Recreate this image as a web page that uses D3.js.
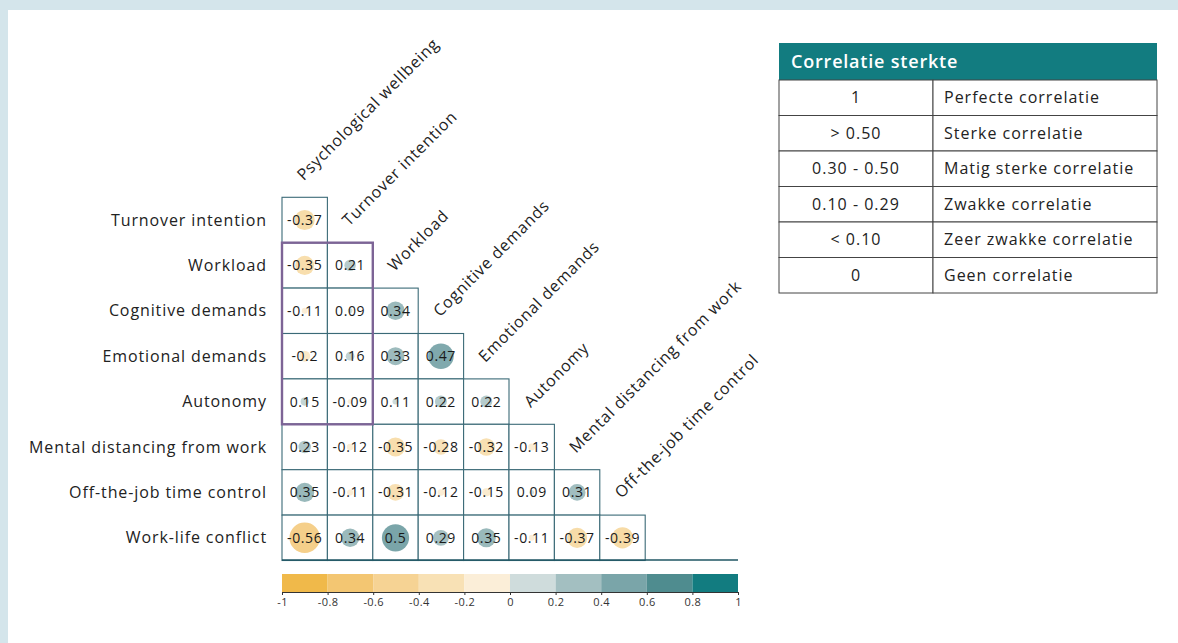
<!DOCTYPE html>
<html>
<head>
<meta charset="utf-8">
<script src="https://cdn.jsdelivr.net/npm/d3@7"></script>
<style>
  html, body { margin: 0; padding: 0; background: #ffffff; }
  svg { display: block; font-family: "Open Sans", sans-serif; }
</style>
</head>
<body>
<svg id="chart" width="1178" height="643"></svg>
<script>
// Variables shown on the rows (lower triangle) and columns
const rowVars = ["Turnover intention", "Workload", "Cognitive demands", "Emotional demands",
  "Autonomy", "Mental distancing from work", "Off-the-job time control", "Work-life conflict"];
const colVars = ["Psychological wellbeing", "Turnover intention", "Workload", "Cognitive demands",
  "Emotional demands", "Autonomy", "Mental distancing from work", "Off-the-job time control"];

// Correlations, one array per row (columns left to right)
const turnoverIntention = [-0.37];
const workload = [-0.35, 0.21];
const cognitiveDemands = [-0.11, 0.09, 0.34];
const emotionalDemands = [-0.2, 0.16, 0.33, 0.47];
const autonomy = [0.15, -0.09, 0.11, 0.22, 0.22];
const mentalDistancing = [0.23, -0.12, -0.35, -0.28, -0.32, -0.13];
const offJobControl = [0.35, -0.11, -0.31, -0.12, -0.15, 0.09, 0.31];
const workLifeConflict = [-0.56, 0.34, 0.5, 0.29, 0.35, -0.11, -0.37, -0.39];
const rowValues = [turnoverIntention, workload, cognitiveDemands, emotionalDemands,
  autonomy, mentalDistancing, offJobControl, workLifeConflict];

// Colour legend bins
const binEdges = [-1, -0.8, -0.6, -0.4, -0.2, 0, 0.2, 0.4, 0.6, 0.8, 1];
const binColors = ["#f0b94a", "#f3c672", "#f6d394", "#f8e1b5", "#fbeed8",
  "#cfdcdc", "#a3bfc1", "#7aa5a9", "#4f8c8f", "#127c80"];

// Strength table
const strengthRanges = ["1", "> 0.50", "0.30 - 0.50", "0.10 - 0.29", "< 0.10", "0"];
const strengthLabels = ["Perfecte correlatie", "Sterke correlatie", "Matig sterke correlatie",
  "Zwakke correlatie", "Zeer zwakke correlatie", "Geen correlatie"];

const svg = d3.select("#chart");

// page frame
svg.append("rect").attr("x", 0).attr("y", 0).attr("width", 1178).attr("height", 643).attr("fill", "#d4e5eb");
svg.append("rect").attr("x", 8).attr("y", 10).attr("width", 1170).attr("height", 633).attr("fill", "#ffffff");

// Matrix geometry
const cell = 45.4;
const gx0 = 282, gy0 = 197.3;
const x = d3.scaleBand().domain(colVars).range([gx0, gx0 + cell * colVars.length]);
const y = d3.scaleBand().domain(rowVars).range([gy0, gy0 + cell * rowVars.length]);

const mid = binEdges.slice(0, -1).map((e, i) => (e + binEdges[i + 1]) / 2);
const circleColor = d3.scaleLinear().domain(mid).range(binColors).clamp(true);
const radius = d3.scaleLinear().domain([0, 1]).range([0, cell * 0.6]);

const cells = [];
rowValues.forEach((vals, i) => vals.forEach((v, j) => cells.push({ row: rowVars[i], col: colVars[j], v })));

const g = svg.append("g");
const cg = g.selectAll("g.cell").data(cells).join("g").attr("class", "cell");
cg.append("rect")
  .attr("x", d => x(d.col)).attr("y", d => y(d.row))
  .attr("width", x.bandwidth()).attr("height", y.bandwidth())
  .attr("fill", "#ffffff").attr("stroke", "#3b6a77").attr("stroke-width", 1.1);
cg.append("circle")
  .attr("cx", d => x(d.col) + x.bandwidth() / 2).attr("cy", d => y(d.row) + y.bandwidth() / 2)
  .attr("r", d => radius(Math.abs(d.v)))
  .attr("fill", d => circleColor(d.v));
cg.append("text")
  .attr("x", d => x(d.col) + x.bandwidth() / 2).attr("y", d => y(d.row) + y.bandwidth() / 2 + 5)
  .attr("text-anchor", "middle").attr("font-size", 14).attr("letter-spacing", 0.6)
  .attr("font-weight", 500).attr("fill", "#1a1a1a")
  .text(d => String(d.v));

// highlighted block
const hiRows = ["Workload", "Autonomy"], hiCols = ["Psychological wellbeing", "Turnover intention"];
g.append("rect")
  .attr("x", x(hiCols[0])).attr("y", y(hiRows[0]))
  .attr("width", x(hiCols[1]) + x.bandwidth() - x(hiCols[0]))
  .attr("height", y(hiRows[1]) + y.bandwidth() - y(hiRows[0]))
  .attr("fill", "none").attr("stroke", "#7d6496").attr("stroke-width", 2.4);

// row labels
g.selectAll("text.rowlab").data(rowVars).join("text").attr("class", "rowlab")
  .attr("x", gx0 - 15).attr("y", d => y(d) + y.bandwidth() / 2 + 5.5)
  .attr("text-anchor", "end").attr("font-size", 16).attr("letter-spacing", 0.9)
  .attr("fill", "#222").text(d => d);

// column labels, rotated above each column's first cell
g.selectAll("text.collab").data(colVars).join("text").attr("class", "collab")
  .attr("transform", (d, i) => {
    const cx = x(d) + x.bandwidth() / 2 - 1;
    const cy = gy0 + cell * i - 16;
    return `translate(${cx},${cy}) rotate(-45)`;
  })
  .attr("font-size", 16).attr("letter-spacing", 0.8).attr("fill", "#222").text(d => d);

// colour legend
const lx = d3.scaleLinear().domain([-1, 1]).range([gx0, 738]);
g.append("line").attr("x1", gx0).attr("x2", 738).attr("y1", 560).attr("y2", 560)
  .attr("stroke", "#1f5663").attr("stroke-width", 1.5);
const legY = 574, legH = 18;
g.selectAll("rect.bin").data(binColors).join("rect").attr("class", "bin")
  .attr("x", (c, i) => lx(binEdges[i])).attr("y", legY)
  .attr("width", (c, i) => lx(binEdges[i + 1]) - lx(binEdges[i])).attr("height", legH)
  .attr("fill", c => c);
const axis = d3.axisBottom(lx).tickValues(binEdges).tickSize(3).tickSizeOuter(3)
  .tickFormat(d => String(+d.toFixed(1)));
const ax = g.append("g").attr("transform", `translate(0,${legY + legH})`).call(axis);
ax.select(".domain").attr("stroke", "#333");
ax.selectAll(".tick line").attr("stroke", "#333");
ax.selectAll(".tick text").attr("font-size", 11).attr("fill", "#333")
  .attr("font-family", "Open Sans, sans-serif").attr("letter-spacing", 0.4);

// strength table
const tx0 = 779, tx1 = 1157, tdiv = 933, headTop = 43, headH = 37, rowH = 35.5;
const tg = svg.append("g");
tg.append("rect").attr("x", tx0).attr("y", headTop).attr("width", tx1 - tx0).attr("height", headH).attr("fill", "#127c80");
tg.append("text").attr("x", tx0 + 12).attr("y", headTop + headH / 2 + 6.5)
  .attr("font-size", 18).attr("font-weight", 600).attr("letter-spacing", 0.8)
  .attr("fill", "#ffffff").text("Correlatie sterkte");
const rowsG = tg.selectAll("g.trow").data(strengthRanges).join("g").attr("class", "trow")
  .attr("transform", (d, i) => `translate(0,${headTop + headH + rowH * i})`);
rowsG.append("rect").attr("x", tx0).attr("y", 0).attr("width", tdiv - tx0).attr("height", rowH)
  .attr("fill", "#fff").attr("stroke", "#444").attr("stroke-width", 1);
rowsG.append("rect").attr("x", tdiv).attr("y", 0).attr("width", tx1 - tdiv).attr("height", rowH)
  .attr("fill", "#fff").attr("stroke", "#444").attr("stroke-width", 1);
rowsG.append("text").attr("x", (tx0 + tdiv) / 2).attr("y", rowH / 2 + 5.5).attr("text-anchor", "middle")
  .attr("font-size", 16).attr("letter-spacing", 1).attr("fill", "#222").text(d => d);
rowsG.append("text").attr("x", tdiv + 11).attr("y", rowH / 2 + 5.5)
  .attr("font-size", 16).attr("letter-spacing", 1).attr("fill", "#222").text((d, i) => strengthLabels[i]);
</script>
</body>
</html>
